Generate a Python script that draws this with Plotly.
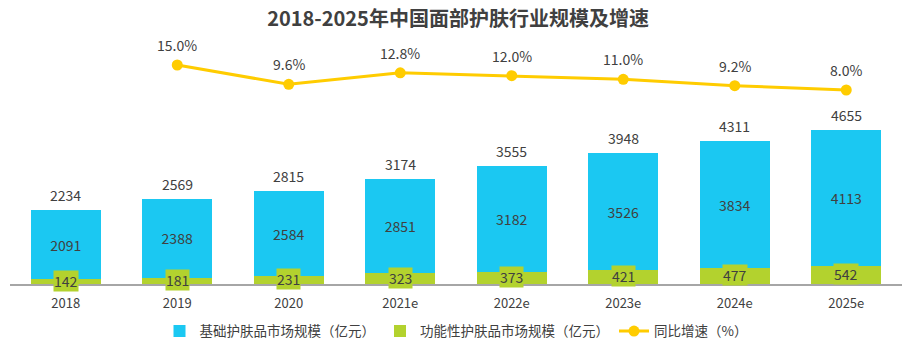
import plotly.graph_objects as go

categories = ["2018", "2019", "2020", "2021e", "2022e", "2023e", "2024e", "2025e"]
basic = [2091, 2388, 2584, 2851, 3182, 3526, 3834, 4113]
functional = [142, 181, 231, 323, 373, 421, 477, 542]
totals = [2234, 2569, 2815, 3174, 3555, 3948, 4311, 4655]
growth_cats = ["2019", "2020", "2021e", "2022e", "2023e", "2024e", "2025e"]
growth = [15.0, 9.6, 12.8, 12.0, 11.0, 9.2, 8.0]

BLUE = "#1BC8F2"
GREEN = "#B3D22E"
YELLOW = "#FFCC00"
TXT = "#404040"
FONT = "Noto Sans CJK SC, Open Sans, sans-serif"

fig = go.Figure()
fig.add_trace(go.Bar(x=categories, y=functional, name="功能性护肤品市场规模（亿元）",
                     marker=dict(color=GREEN, line=dict(width=0)), width=0.63,
                     legendrank=2))
fig.add_trace(go.Bar(x=categories, y=basic, name="基础护肤品市场规模（亿元）",
                     marker=dict(color=BLUE, line=dict(width=0)), width=0.63,
                     text=[str(v) for v in basic], textposition="inside",
                     insidetextanchor="middle", legendrank=1,
                     textfont=dict(color=TXT, size=14, family=FONT)))
fig.add_trace(go.Scatter(x=growth_cats, y=growth, name="同比增速（%）", yaxis="y2",
                         mode="lines+markers", line=dict(color=YELLOW, width=3),
                         marker=dict(color=YELLOW, size=11), legendrank=3))

annotations = []
for i, t in enumerate(totals):
    annotations.append(dict(x=i, y=t, text=str(t), showarrow=False, yanchor="bottom",
                            yshift=3, font=dict(color=TXT, size=14, family=FONT)))
for i, f in enumerate(functional):
    annotations.append(dict(x=i, y=f / 2, text=str(f), showarrow=False, yanchor="middle",
                            yshift=1, bgcolor=GREEN, borderpad=0,
                            font=dict(color=TXT, size=14, family=FONT)))
for c, g in zip(growth_cats, growth):
    annotations.append(dict(x=categories.index(c), y=g, yref="y2", text=f"{g:.1f}%",
                            showarrow=False, yanchor="bottom", yshift=8,
                            font=dict(color=TXT, size=14, family=FONT)))

fig.update_layout(
    width=907, height=343,
    margin=dict(l=10, r=5, t=40, b=59, autoexpand=False),
    plot_bgcolor="white", paper_bgcolor="white",
    barmode="stack", bargap=0.37,
    title=dict(text="<b>2018-2025年中国面部护肤行业规模及增速</b>", x=0.505, xanchor="center",
               y=0.945, yanchor="middle", font=dict(size=20, color=TXT, family=FONT)),
    xaxis=dict(type="category", categoryorder="array", categoryarray=categories,
               range=[-0.5, 7.5], automargin=False,
               showgrid=False, showline=True, linecolor="#A6A6A6", linewidth=1.5,
               ticks="outside", ticklen=7, tickcolor="rgba(0,0,0,0)",
               tickfont=dict(size=13, color=TXT, family=FONT)),
    yaxis=dict(range=[0, 7372], visible=False, showgrid=False),
    yaxis2=dict(range=[-46.3, 22.0], overlaying="y", visible=False, showgrid=False),
    legend=dict(orientation="h", x=0.5, xanchor="center", yref="container",
                y=0.034, yanchor="middle", traceorder="normal",
                font=dict(size=13.5, color=TXT, family=FONT), itemwidth=30),
    annotations=annotations,
    showlegend=True,
)
fig.write_html("out.html")
